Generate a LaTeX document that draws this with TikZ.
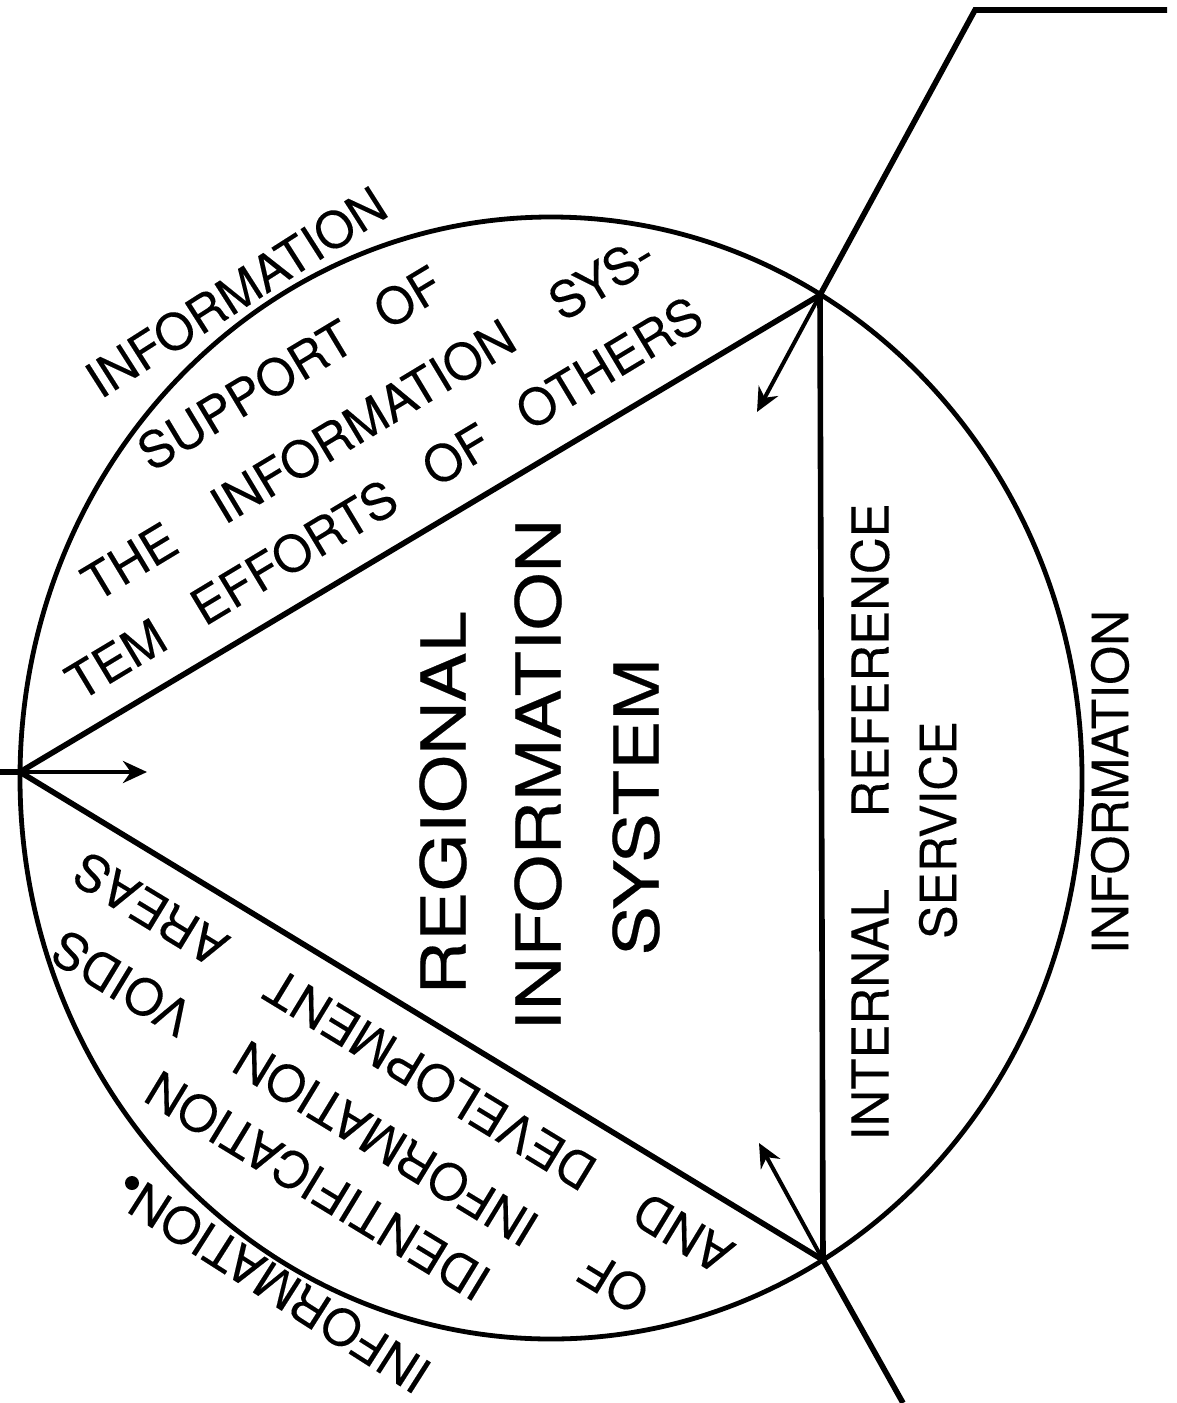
\documentclass[tikz,border=0pt]{standalone}
\usepackage{fontspec}
\setmainfont{TeX Gyre Heros}
\newfontfamily\bigfont[FakeStretch=1.2,FakeBold=0.4]{TeX Gyre Heros}
\newfontfamily\lblfont[FakeBold=0.2]{TeX Gyre Heros}
\usetikzlibrary{arrows.meta}
\begin{document}
\begin{tikzpicture}[x=0.5pt,y=0.5pt,
  rim/.style={line width=2.4pt},
  edge/.style={line width=2.8pt, line join=miter},
  outer/.style={line width=2.8pt},
  arr/.style={line width=2pt, -{Stealth[length=12pt,width=11pt]}},
  lbl/.style={inner sep=0pt, font=\lblfont\fontsize{25}{30}\selectfont},
  biglbl/.style={inner sep=0pt, font=\bigfont\fontsize{31}{36}\selectfont}]
\fill[white] (0,0) rectangle (1177,-1403);
\useasboundingbox (0,0) rectangle (1177,-1403);
% key points
\coordinate (L) at (20,-772);
\coordinate (T) at (820,-295);
\coordinate (B) at (823,-1260);
\coordinate (C) at (551,-778);
\coordinate (Lend) at (0,-772);
\coordinate (Tk) at (975,-10);
\coordinate (Tend) at (1167,-10);
\coordinate (Bend) at (903,-1403);
\coordinate (La) at (147,-772);
\coordinate (Ta) at (757,-412);
\coordinate (Ba) at (759,-1143);
% outline
\draw[rim] (C) ellipse [x radius=531, y radius=561];
\draw[edge] (L) -- (T) -- (B) -- cycle;
\draw[outer] (Lend) -- (L);
\draw[outer] (T) -- (Tk) -- (Tend);
\draw[outer] (B) -- (Bend);
\draw[arr] (L) -- (La);
\draw[arr] (T) -- (Ta);
\draw[arr] (B) -- (Ba);
% upper band
\node[lbl, rotate=32.5] (infoA) at (236,-292) {INFORMATION};
\node[lbl, rotate=31] (supp) at (290,-368) {SUPPORT\hspace{0.7em}OF};
\node[lbl, rotate=31] (the) at (368,-418) {THE\hspace{1em}INFORMATION\hspace{1em}SYS-};
\node[lbl, rotate=31] (tem) at (384,-498) {TEM\hspace{0.8em}EFFORTS\hspace{0.8em}OF\hspace{0.8em}OTHERS};
% lower band
\node[lbl, rotate=148.7] (and) at (403,-1063) {AND\hspace{1.1em}DEVELOPMENT\hspace{1.1em}AREAS};
\node[lbl, rotate=148.7] (ofinf) at (350,-1122) {OF\hspace{1.2em}INFORMATION\hspace{1.2em}VOIDS};
\node[lbl, rotate=148.7] (ident) at (318,-1186) {IDENTIFICATION};
\node[lbl, rotate=147.5] (infoB) at (280,-1288) {INFORMATION};
% centre
\node[biglbl, rotate=90] (reg) at (443,-803) {REGIONAL};
\node[biglbl, rotate=90] (inf) at (538,-775) {INFORMATION};
\node[biglbl, rotate=90] (sys) at (636,-807) {SYSTEM};
% right band
\node[lbl, rotate=90, font=\lblfont\fontsize{25.5}{30}\selectfont] (irs) at (870,-822) {INTERNAL\hspace{1.4em}REFERENCE};
\node[lbl, rotate=90] (serv) at (938,-830) {SERVICE};
\node[lbl, rotate=90] (infoC) at (1110,-782) {INFORMATION};
% ink blot
\fill (132,-1183) circle [radius=7];
\end{tikzpicture}
\end{document}
